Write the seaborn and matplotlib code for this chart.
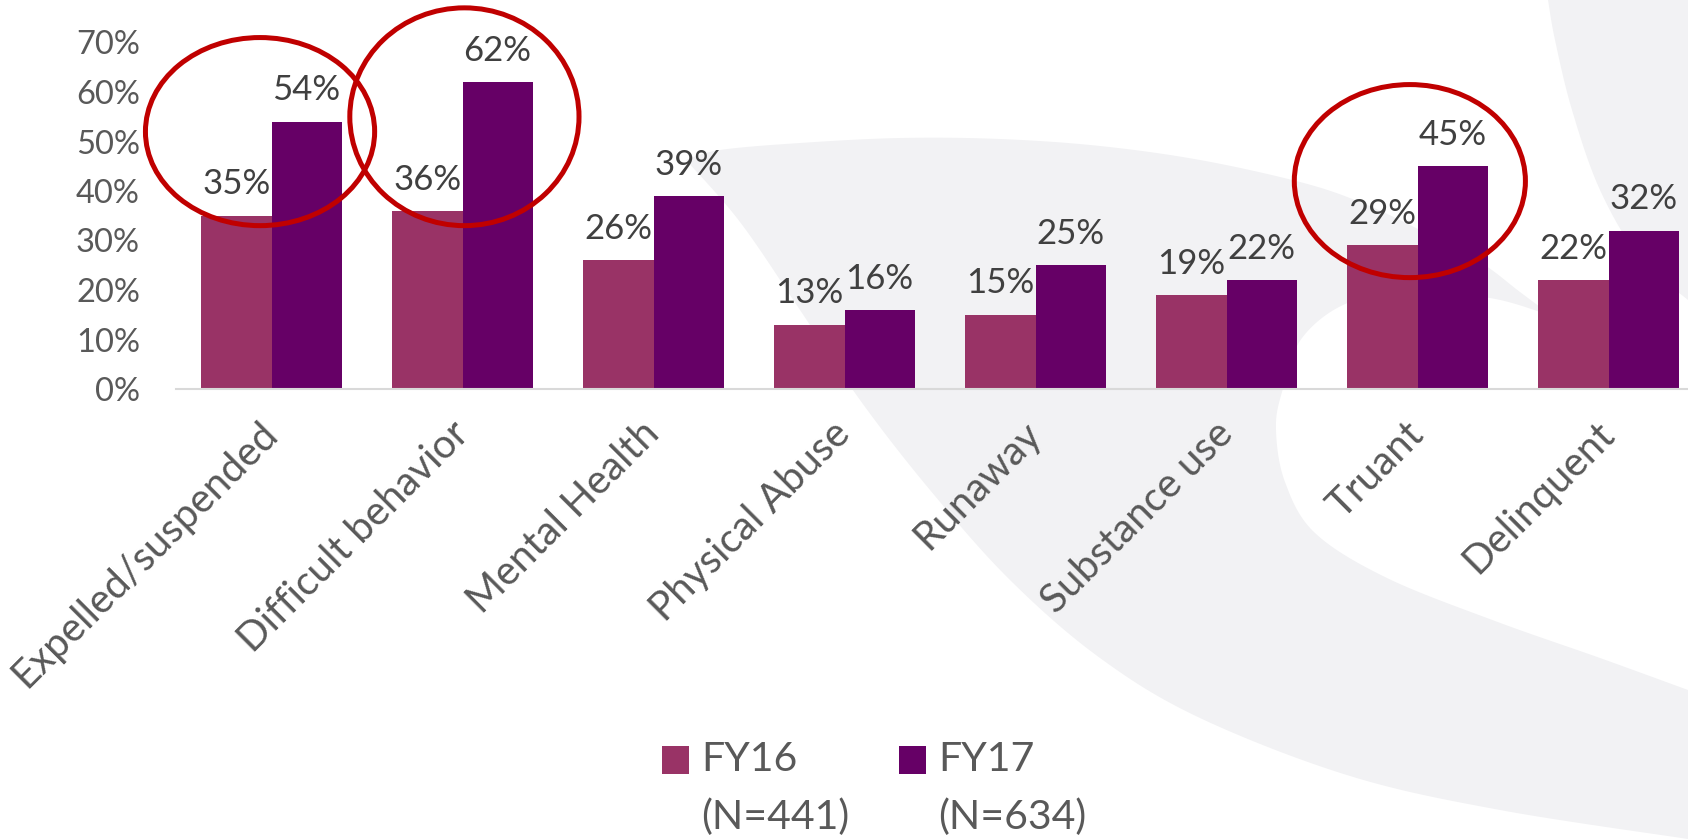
import numpy as np
import pandas as pd
import matplotlib
matplotlib.use("Agg")
import matplotlib.pyplot as plt
import seaborn as sns
from matplotlib.patches import Ellipse, Polygon

# ---------------- data ----------------
categories = ["Expelled/suspended", "Difficult behavior", "Mental Health",
              "Physical Abuse", "Runaway", "Substance use", "Truant", "Delinquent"]
fy16 = [0.35, 0.36, 0.26, 0.13, 0.15, 0.19, 0.29, 0.22]
fy17 = [0.54, 0.62, 0.39, 0.16, 0.25, 0.22, 0.45, 0.32]
series = ["FY16", "FY17"]
series_labels = ["FY16\n(N=441)", "FY17\n(N=634)"]
yticks = [0.0, 0.1, 0.2, 0.3, 0.4, 0.5, 0.6, 0.7]
ytick_labels = ["0%", "10%", "20%", "30%", "40%", "50%", "60%", "70%"]

# highlighted categories (red ellipses)
highlight = ["Expelled/suspended", "Difficult behavior", "Truant"]
highlight_dx = [-0.06, 0.01, -0.04]
highlight_y = [0.52, 0.55, 0.42]
highlight_w = [1.20, 1.20, 1.21]
highlight_h = [0.38, 0.44, 0.39]

# ---------------- style ----------------
C16 = "#993366"
C17 = "#660066"
TXT = "#595959"
LBL = "#404040"
RED = "#C00000"
BG = "#F2F2F4"

sns.set_style("white")
plt.rcParams["font.family"] = ["Lato", "DejaVu Sans"]

W, H = 1688, 839
DPI = 100
fig = plt.figure(figsize=(W / DPI, H / DPI), dpi=DPI)
fig.patch.set_facecolor("white")

# ---------------- decorative background ----------------
def catmull(points, n=20):
    p = np.asarray(points, float)
    p = np.vstack([p[0], p, p[-1]])
    out = []
    for i in range(1, len(p) - 2):
        p0, p1, p2, p3 = p[i - 1], p[i], p[i + 1], p[i + 2]
        t = np.linspace(0, 1, n, endpoint=False)[:, None]
        seg = 0.5 * ((2 * p1) + (-p0 + p2) * t + (2 * p0 - 5 * p1 + 4 * p2 - p3) * t ** 2
                     + (-p0 + 3 * p1 - 3 * p2 + p3) * t ** 3)
        out.append(seg)
    out.append(p[-2][None, :])
    return np.vstack(out)

bg = fig.add_axes([0, 0, 1, 1], zorder=0)
bg.set_xlim(0, W)
bg.set_ylim(H, 0)
bg.axis("off")

top_edge = [(1560, 322), (1520, 292), (1480, 262), (1420, 230), (1360, 202), (1300, 182),
            (1200, 160), (1100, 146), (1000, 139), (900, 138), (800, 143), (720, 150), (686, 160)]
outer_edge = [(686, 160), (740, 222), (800, 310), (860, 400), (930, 490), (1010, 580),
              (1100, 658), (1200, 718), (1350, 776), (1500, 810), (1688, 839)]
inner_edge = [(1688, 690), (1600, 658), (1495, 621), (1387, 578), (1315, 533), (1285, 482),
              (1276, 430), (1282, 392), (1302, 338), (1350, 302), (1420, 292), (1490, 298),
              (1540, 312), (1560, 322)]
shapeA = np.vstack([catmull(top_edge), catmull(outer_edge), catmull(inner_edge)])
bg.add_patch(Polygon(shapeA, closed=True, facecolor=BG, edgecolor="none"))

strip_edge = [(1688, 300), (1640, 258), (1600, 190), (1572, 110), (1555, 40), (1548, 0)]
shapeB = np.vstack([catmull(strip_edge), [(1688, 0)]])
bg.add_patch(Polygon(shapeB, closed=True, facecolor=BG, edgecolor="none"))

# ---------------- main chart ----------------
ax = fig.add_axes([176 / W, 1 - 389 / H, 1528 / W, 346.5 / H], zorder=1)
ax.set_facecolor("none")

df = pd.DataFrame({
    "category": categories * 2,
    "year": [series[0]] * len(categories) + [series[1]] * len(categories),
    "value": fy16 + fy17,
})
sns.barplot(data=df, x="category", y="value", hue="year", order=categories,
            hue_order=series, palette=[C16, C17], saturation=1, width=0.733,
            gap=0, ax=ax, errorbar=None, linewidth=0, edgecolor="none")

for cont in ax.containers:
    vals = [b.get_height() for b in cont]
    ax.bar_label(cont, labels=[f"{round(v * 100)}%" for v in vals], padding=11,
                 fontsize=25, color=LBL)

ax.set_xlim(-0.5, len(categories) - 0.5)
ax.set_ylim(0, 0.7)
ax.set_yticks(yticks)
ax.set_yticklabels(ytick_labels)
ax.tick_params(axis="y", length=0, pad=26, labelsize=23.5, labelcolor=TXT)
ax.set_xticks(range(len(categories)))
ax.set_xticklabels(categories, rotation=45, ha="right", va="center",
                   rotation_mode="anchor", fontsize=29, color=TXT)
ax.tick_params(axis="x", length=0, pad=28)
ax.set_xlabel("")
ax.set_ylabel("")
for s in ["top", "right", "left"]:
    ax.spines[s].set_visible(False)
ax.spines["bottom"].set_color("#D9D9D9")
ax.spines["bottom"].set_linewidth(1.5)

# highlight ellipses
for cat, dx, yc, ew, eh in zip(highlight, highlight_dx, highlight_y, highlight_w, highlight_h):
    xc = categories.index(cat) + dx
    ax.add_patch(Ellipse((xc, yc), ew, eh, facecolor="none", edgecolor=RED,
                         linewidth=3.6, clip_on=False, zorder=5))

# legend
handles, _ = ax.get_legend_handles_labels()
leg = ax.legend(handles, series_labels, loc="upper left",
                bbox_to_anchor=(662 / W, 1 - 741 / H), bbox_transform=fig.transFigure,
                ncol=2, frameon=False, fontsize=29.5, handlelength=0.66, handleheight=0.66,
                handletextpad=0.3, columnspacing=1.2, borderpad=0, borderaxespad=0,
                labelcolor=TXT)
for t in leg.get_texts():
    t.set_linespacing(1.68)

# align each legend square with the first line of its label
fig.canvas.draw()
for hnd, txt in zip(leg.legend_handles, leg.get_texts()):
    tb = txt.get_window_extent()
    hb = hnd.get_window_extent()
    target_top = tb.y1 - 5
    hnd.set_y(hnd.get_y() + (target_top - hb.y1) * 72.0 / DPI)

fig.savefig("out.png", dpi=DPI, facecolor="white")
